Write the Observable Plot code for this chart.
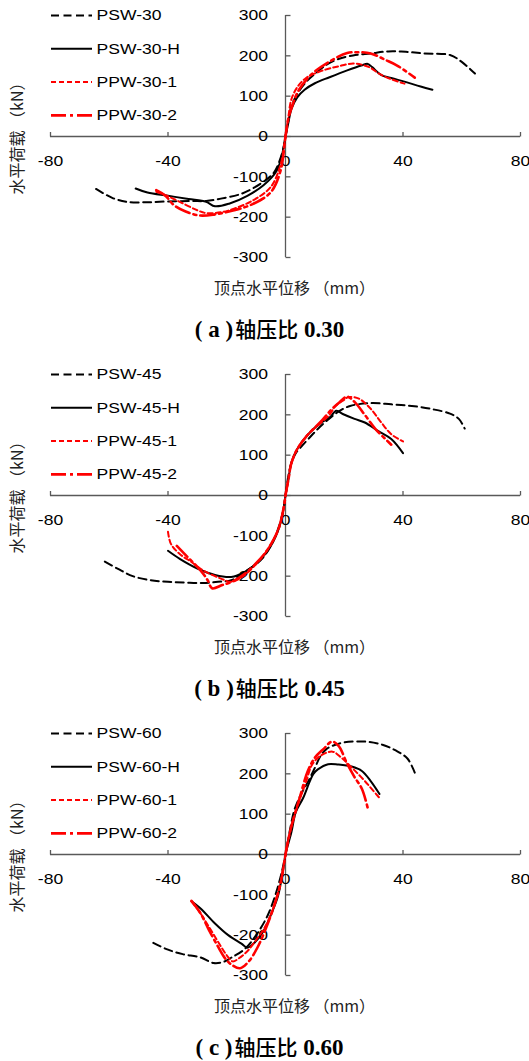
<!DOCTYPE html>
<html>
<head>
<meta charset="utf-8">
<script src="https://cdn.jsdelivr.net/npm/d3@7"></script>
<script src="https://cdn.jsdelivr.net/npm/@observablehq/plot@0.6"></script>
<style>
  html, body { margin: 0; padding: 0; background: #fff; }
  #root { width: 529px; }
  .panel { position: relative; width: 529px; height: 359px; }
  .panel svg { display: block; }
  .cap { position: absolute; left: 5px; width: 529px; top: 318px; height: 20px; line-height: 20px; text-align: center; color: #000; white-space: pre; }
  .cap span { display: inline-block; line-height: 20px; height: 20px; }
  .cap .lat { font-family: "Liberation Serif", "Times New Roman", serif; font-weight: bold; font-size: 23px; }
  .cap .cjk { font-family: "Noto Sans CJK SC", sans-serif; font-weight: 500; font-size: 21px; margin-left: 2px; }
</style>
</head>
<body>
<div id="root"></div>
<script>
// ---- tick values ----
const xTicks = [-80, -40, 0, 40, 80];
const yTicks = [-300, -200, -100, 0, 100, 200, 300];

// ---- axis labels & captions ----
const xTitle = "顶点水平位移 （mm）";
const yTitle = "水平荷载 （kN）";
const capLetters = ["a", "b", "c"];
const capRatios = ["0.30", "0.45", "0.60"];

// ---- series names ----
const labels30 = ["PSW-30", "PSW-30-H", "PPW-30-1", "PPW-30-2"];
const labels45 = ["PSW-45", "PSW-45-H", "PPW-45-1", "PPW-45-2"];
const labels60 = ["PSW-60", "PSW-60-H", "PPW-60-1", "PPW-60-2"];

// ---- (a) axial compression ratio 0.30 : [displacement mm, load kN] ----
const PSW30 = [[-64.5,-130],[-59,-152],[-54,-162],[-47,-163],[-40,-161],[-32,-160],[-27,-160],[-22,-154],[-15,-142],[-8.5,-117],[-4,-90],[-2,-60],[-0.6,-25],[0,0],[1,40],[2,75],[4,105],[7,135],[10,155],[14,178],[18,192],[23,201],[29,206],[35,211],[41,210],[47,206],[56,202],[60,185],[64.5,156]];
const PSW30H = [[-51,-129],[-47,-139],[-40,-147],[-33,-155],[-27,-162],[-24,-173],[-19,-166],[-13,-147],[-7.5,-121],[-3,-85],[-1,-40],[0,0],[1,35],[2,68],[4,97],[6.5,116],[10,132],[15,147],[21,164],[25.8,176],[28,180],[29.5,172],[32.5,153],[36,145],[40.5,136],[46,124],[50,116]];
const PPW30_1 = [[-44,-137],[-40,-148],[-36,-162],[-30,-183],[-27,-190],[-22,-188],[-17.5,-179],[-11,-158],[-5,-125],[-1.7,-70],[0,0],[1,50],[2,92],[4,122],[7,145],[12,162],[18,174],[23,181],[26,178],[29,170],[32,155],[36,142],[40.5,131]];
const PPW30_2 = [[-44,-133],[-41,-146],[-38,-170],[-34,-186],[-29,-196],[-24,-193],[-17.5,-183],[-11,-167],[-5,-138],[-1.7,-85],[0,0],[1,45],[2.5,80],[4.5,115],[9,155],[15,186],[21,207],[24,209],[29,206],[34,190],[38,176],[44,146]];

// ---- (b) axial compression ratio 0.45 ----
const PSW45 = [[-61.5,-164],[-57,-182],[-52,-200],[-46,-210],[-40,-214],[-34,-216],[-28,-217],[-23,-214],[-18.5,-210],[-14,-190],[-8,-157],[-4,-110],[-1,-45],[0,0],[1,50],[2,80],[3.5,105],[5,118],[8,142],[11,165],[14,185],[18,208],[22,222],[29,229],[36,226],[43,222],[50,214],[56,203],[59,190],[61,166]];
const PSW45H = [[-40,-137],[-36,-157],[-30,-181],[-24,-197],[-18.5,-202],[-14,-190],[-9.5,-166],[-5,-125],[-2,-76],[-0.5,-26],[0,0],[0.5,20],[1,40],[2,82],[4,115],[7.5,150],[12,180],[15,193],[17.3,210],[19.5,202],[23.5,190],[27,181],[31.5,160],[36,140],[40,105]];
const PPW45_1 = [[-40,-90],[-39,-120],[-36,-145],[-32,-165],[-28,-186],[-22,-206],[-18.5,-214],[-15,-203],[-10.5,-174],[-6,-133],[-2.5,-84],[-0.5,-26],[0,0],[1,40],[2,80],[4,115],[7.5,150],[12,180],[15,200],[17,222],[19.5,235],[21.5,244],[25,240],[29,215],[32.5,182],[36,152],[40,134]];
const PPW45_2 = [[-37,-125],[-33,-155],[-29,-185],[-26.5,-210],[-25,-230],[-21.5,-222],[-18,-213],[-14,-195],[-10,-168],[-6,-133],[-2.5,-85],[-0.5,-26],[0,0],[1,40],[2,80],[4,115],[7.5,150],[12,183],[15.5,212],[18.5,232],[21,245],[23.5,232],[27,200],[30.5,166],[34,140],[36,126]];

// ---- (c) axial compression ratio 0.60 ----
const PSW60 = [[-45,-219],[-40,-236],[-35,-247],[-29,-255],[-24.5,-269],[-21,-266],[-18.5,-256],[-14,-235],[-10,-200],[-6,-150],[-3,-90],[-1,-35],[0,0],[0.5,20],[1.5,60],[3,110],[5,145],[8,185],[10,215],[12,245],[14,262],[17,272],[20,278],[27,280],[33,272],[37.5,258],[41.5,238],[44,203]];
const PSW60H = [[-32,-116],[-29,-133],[-24,-171],[-19.5,-200],[-15,-221],[-13,-231],[-10.5,-218],[-7.5,-190],[-5,-150],[-2.6,-104],[-1,-46],[0,0],[0.5,15],[2,55],[3.5,105],[6,140],[8.3,182],[9.5,200],[11,211],[14.5,224],[18,223],[22.5,218],[26,207],[29,182],[32,150]];
const PPW60_1 = [[-32,-117],[-29.5,-140],[-26,-180],[-22.5,-222],[-20,-250],[-18,-265],[-16,-258],[-13,-240],[-10,-212],[-7,-180],[-4.5,-140],[-2,-80],[0,0],[0.5,20],[1.5,55],[3,95],[5,140],[7,180],[9,222],[12,245],[16,255],[19,240],[22.5,216],[27,182],[32,140]];
const PPW60_2 = [[-32,-115],[-29,-145],[-26,-188],[-23,-228],[-20.5,-258],[-18,-275],[-15.5,-282],[-12.5,-265],[-9.5,-230],[-6.5,-180],[-4,-130],[-1.8,-75],[0,0],[0.5,20],[2,70],[5,145],[7.5,205],[10,240],[13,262],[15.8,280],[18,270],[21,225],[23.5,192],[26,163],[28,115]];

const panelData = [
  {labels: labels30, series: [PSW30, PSW30H, PPW30_1, PPW30_2]},
  {labels: labels45, series: [PSW45, PSW45H, PPW45_1, PPW45_2]},
  {labels: labels60, series: [PSW60, PSW60H, PPW60_1, PPW60_2]}
];

// ---- styles ----
const lineStyles = [
  {stroke: "#000", strokeWidth: 2, strokeDasharray: "8,4.5"},
  {stroke: "#000", strokeWidth: 2},
  {stroke: "#f00", strokeWidth: 2, strokeDasharray: "5,3"},
  {stroke: "#f00", strokeWidth: 2.6, strokeDasharray: "15,4,3,4"}
];
const axisColor = "#595959";
const sansFont = "'Liberation Sans', Arial, sans-serif";
const cjkFont = "'Noto Sans CJK SC', sans-serif";

// custom symbols for tick marks and legend swatches (pixel-sized)
const tickUp = {draw(ctx) { ctx.moveTo(0, 0); ctx.lineTo(0, -4.5); }};
const tickRight = {draw(ctx) { ctx.moveTo(0, 0); ctx.lineTo(5, 0); }};
const swatch = {draw(ctx) { ctx.moveTo(0, 0); ctx.lineTo(41, 0); }};

const root = document.getElementById("root");

panelData.forEach((p, k) => {
  const marks = [
    Plot.ruleY([0], {stroke: axisColor, strokeWidth: 1.3}),
    Plot.ruleX([0], {stroke: axisColor, strokeWidth: 1.3}),
    Plot.dot(xTicks, {x: d => d, y: 0, symbol: tickUp, fill: "none", stroke: axisColor, strokeWidth: 1.3}),
    Plot.dot(yTicks, {x: 0, y: d => d, symbol: tickRight, fill: "none", stroke: axisColor, strokeWidth: 1.3}),
    Plot.text(xTicks, {x: d => d, y: 0, text: d => String(d), dy: 24.5, fontSize: 15, fill: "#000", textAnchor: "middle", lineAnchor: "middle"}),
    Plot.text(yTicks, {x: 0, y: d => d, text: d => String(d), dx: -17.5, fontSize: 15, fill: "#000", textAnchor: "end", lineAnchor: "middle"}),
    Plot.text([xTitle], {frameAnchor: "bottom", dx: 9, dy: 31, fontSize: 16, fontFamily: cjkFont, fill: "#222", textAnchor: "middle", lineAnchor: "middle"}),
    Plot.text([yTitle], {frameAnchor: "left", dx: -33, dy: -2, rotate: -90, fontSize: 16, fontFamily: cjkFont, fill: "#222", textAnchor: "middle", lineAnchor: "middle"})
  ];
  p.series.forEach((s, i) => {
    marks.push(Plot.line(s, {x: d => d[0], y: d => d[1], curve: "catmull-rom", ...lineStyles[i]}));
  });
  p.labels.forEach((name, i) => {
    const st = lineStyles[i];
    marks.push(Plot.dot([name], {frameAnchor: "top-left", dx: 0.5, dy: i * 33.3, symbol: swatch, fill: "none", stroke: st.stroke, strokeWidth: st.strokeWidth, strokeDasharray: st.strokeDasharray}));
    marks.push(Plot.text([name], {frameAnchor: "top-left", dx: 46, dy: i * 33.3, text: d => d, fontSize: 15, fill: "#000", textAnchor: "start", lineAnchor: "middle"}));
  });

  const chart = Plot.plot({
    width: 529,
    height: 310,
    marginLeft: 50,
    marginRight: 9,
    marginTop: 15,
    marginBottom: 53,
    x: {domain: [-80, 80], axis: null},
    y: {domain: [-300, 300], axis: null},
    style: {fontFamily: sansFont, fontSize: "15px", background: "#fff", color: "#000"},
    marks
  });

  // horizontally widen Latin glyphs (the reference figure is stretched sideways)
  chart.querySelectorAll("text").forEach(t => {
    if (/^[\x20-\x7E]+$/.test(t.textContent)) {
      const tr = t.getAttribute("transform") || "";
      t.setAttribute("transform", tr + " scale(1.17,1)");
    }
  });

  const panel = document.createElement("div");
  panel.className = "panel";
  panel.appendChild(chart);
  const cap = document.createElement("div");
  cap.className = "cap";
  cap.innerHTML = `<span class="lat">( ${capLetters[k]} )</span><span class="cjk">轴压比</span><span class="lat">&nbsp;${capRatios[k]}</span>`;
  panel.appendChild(cap);
  root.appendChild(panel);
});
</script>
</body>
</html>
